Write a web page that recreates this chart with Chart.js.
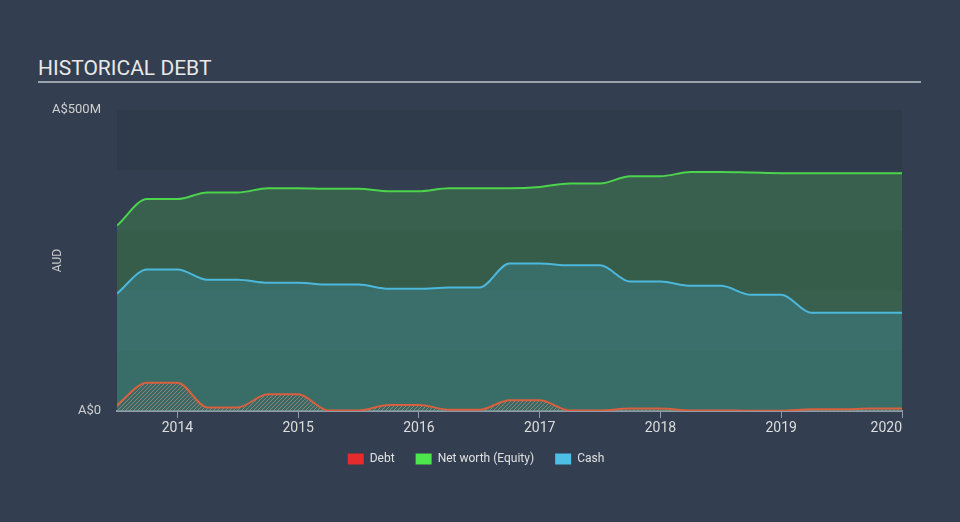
<!DOCTYPE html>
<html>
<head>
<meta charset="utf-8">
<script src="https://cdn.jsdelivr.net/npm/chart.js@4/dist/chart.umd.min.js"></script>
<style>
  html, body { margin: 0; padding: 0; background: #333f50; }
  #wrap { position: relative; width: 960px; height: 522px; background: #333f50; overflow: hidden; }
  #title { position: absolute; left: 38px; top: 56px; font-family: Roboto, sans-serif; font-size: 21px; color: #e8e8e8; }
  #rule { position: absolute; left: 38px; top: 81px; width: 883px; height: 2px; background: #9aa2ac; }
  #c { position: absolute; left: 0; top: 0; }
</style>
</head>
<body>
<div id="wrap">
  <div id="title">HISTORICAL DEBT</div>
  <div id="rule"></div>
  <canvas id="c" width="960" height="522"></canvas>
</div>
<script>
// Quarterly periods (decimal years)
const periods = [2013.5, 2013.75, 2014.0, 2014.25, 2014.5, 2014.75, 2015.0, 2015.25, 2015.5, 2015.75,
                 2016.0, 2016.25, 2016.5, 2016.75, 2017.0, 2017.25, 2017.5, 2017.75, 2018.0, 2018.25,
                 2018.5, 2018.75, 2019.0, 2019.25, 2019.5, 2019.75, 2020.0];
// Values in A$ millions
const debtValues   = [10, 47, 47, 6, 6, 28, 28, 1, 1, 10, 10, 2, 2, 18, 18, 1, 1, 4, 4, 1, 1, 0.5, 0.5, 3, 3, 4, 4];
const equityValues = [308, 352, 352, 363, 363, 370, 370, 369, 369, 365, 365, 370, 370, 370, 372, 378, 378, 390, 390, 397, 397, 396, 395, 395, 395, 395, 395];
const cashValues   = [195, 235, 235, 218, 218, 213, 213, 210, 210, 203, 203, 205, 205, 245, 245, 242, 242, 215, 215, 208, 208, 193, 193, 163, 163, 163, 163];
const xStart = 2013.5;
const yearTicks = [2014, 2015, 2016, 2017, 2018, 2019, 2020];
const yTicks = [0, 500];
const bandRanges = [[0, 100], [200, 300], [400, 500]];

function pts(vals) { return periods.map((p, i) => ({ x: p, y: vals[i] })); }

function makeHatch() {
  const s = 4;
  const cv = document.createElement('canvas');
  cv.width = s; cv.height = s;
  const g = cv.getContext('2d');
  g.fillStyle = 'rgba(70,90,90,0.25)';
  g.fillRect(0, 0, s, s);
  g.strokeStyle = 'rgba(190,150,140,0.6)';
  g.lineWidth = 1;
  g.beginPath();
  g.moveTo(0, s); g.lineTo(s, 0);
  g.moveTo(-1, 1); g.lineTo(1, -1);
  g.moveTo(s - 1, s + 1); g.lineTo(s + 1, s - 1);
  g.stroke();
  return g.createPattern(cv, 'repeat');
}

const bandsPlugin = {
  id: 'bands',
  beforeDatasetsDraw(chart) {
    const { ctx, chartArea, scales } = chart;
    ctx.save();
    ctx.fillStyle = 'rgba(0,0,0,0.07)';
    bandRanges.forEach(([a, b]) => {
      const y1 = scales.y.getPixelForValue(b);
      const y2 = scales.y.getPixelForValue(a);
      ctx.fillRect(chartArea.left, y1, chartArea.right - chartArea.left, y2 - y1);
    });
    ctx.restore();
  }
};

Chart.defaults.font.family = 'Roboto, sans-serif';

new Chart(document.getElementById('c'), {
  type: 'line',
  data: {
    datasets: [
      {
        label: 'Debt',
        data: pts(debtValues),
        borderColor: '#d9603f',
        backgroundColor: makeHatch(),
        borderWidth: 2,
        fill: 'origin',
        order: 1,
        legendColor: '#e52b2b'
      },
      {
        label: 'Net worth (Equity)',
        data: pts(equityValues),
        borderColor: '#4cd44c',
        backgroundColor: 'rgba(76,190,76,0.25)',
        borderWidth: 2,
        fill: 'origin',
        order: 3,
        legendColor: '#4de64d'
      },
      {
        label: 'Cash',
        data: pts(cashValues),
        borderColor: '#4cb8dc',
        backgroundColor: 'rgba(72,182,220,0.2)',
        borderWidth: 2,
        fill: 'origin',
        order: 2,
        legendColor: '#4dbfe6'
      }
    ]
  },
  options: {
    responsive: false,
    animation: false,
    events: [],
    elements: { point: { radius: 0 }, line: { cubicInterpolationMode: 'monotone' } },
    layout: { padding: { left: 50, right: 58, top: 110, bottom: 47 } },
    plugins: {
      tooltip: { enabled: false },
      legend: {
        position: 'bottom',
        labels: {
          color: '#e0e0e0',
          font: { size: 12 },
          boxWidth: 16,
          boxHeight: 11,
          padding: 21,
          sort: (a, b) => a.datasetIndex - b.datasetIndex,
          generateLabels(chart) {
            return chart.data.datasets.map((ds, i) => ({
              text: ds.label,
              fillStyle: ds.legendColor,
              strokeStyle: ds.legendColor,
              lineWidth: 0,
              fontColor: '#e0e0e0',
              datasetIndex: i,
              hidden: false
            }));
          }
        }
      }
    },
    scales: {
      x: {
        type: 'linear',
        min: xStart,
        max: 2020,
        afterBuildTicks(scale) { scale.ticks = [xStart].concat(yearTicks).map(v => ({ value: v })); },
        afterFit(scale) { scale.height = 21; },
        grid: {
          display: true, drawOnChartArea: false, drawTicks: true, tickLength: 7, lineWidth: 1,
          color: c => (c.tick && c.tick.value === xStart) ? 'rgba(0,0,0,0)' : '#8f9bab'
        },
        border: { display: true, color: '#8f9bab', width: 2 },
        ticks: { color: '#dddddd', font: { size: 14 }, padding: 2, maxRotation: 0, align: 'inner',
                 callback: v => v === xStart ? '' : String(v) }
      },
      y: {
        min: 0,
        max: 500,
        afterBuildTicks(scale) { scale.ticks = yTicks.map(v => ({ value: v })); },
        afterFit(scale) { scale.width = 67; },
        grid: { display: false, drawTicks: false },
        border: { display: false },
        ticks: { color: '#d0d0d0', font: { size: 13 }, padding: 16, callback: v => v === 0 ? 'A$0' : 'A$' + v + 'M' },
        title: { display: true, text: 'AUD', color: '#c8c8c8', font: { size: 12 }, padding: { top: 1, bottom: 0 } }
      }
    }
  },
  plugins: [bandsPlugin]
});
</script>
</body>
</html>
